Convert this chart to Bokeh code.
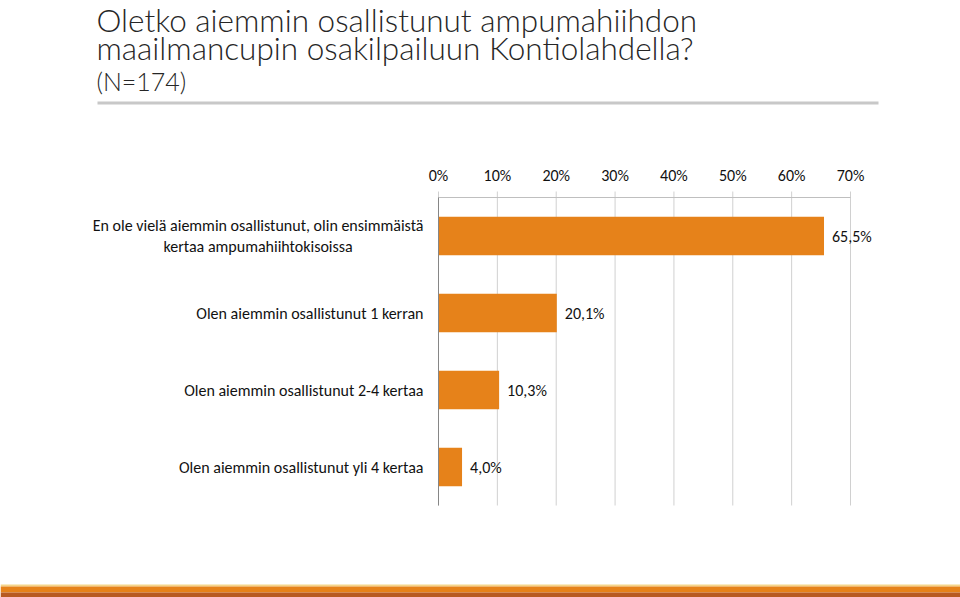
from bokeh.plotting import figure
from bokeh.models import Range1d, Label, ColumnDataSource, BoxAnnotation
from bokeh.core.properties import value
from bokeh.embed import file_html
from bokeh.resources import INLINE

categories = [
    "En ole vielä aiemmin osallistunut, olin ensimmäistä\nkertaa ampumahiihtokisoissa",
    "Olen aiemmin osallistunut 1 kerran",
    "Olen aiemmin osallistunut 2-4 kertaa",
    "Olen aiemmin osallistunut yli 4 kertaa",
]
values = [65.5, 20.1, 10.3, 4.0]
value_labels = ["65,5%", "20,1%", "10,3%", "4,0%"]
ticks = [0, 10, 20, 30, 40, 50, 60, 70]
tick_labels = [f"{t}%" for t in ticks]
title_lines = ["Oletko aiemmin osallistunut ampumahiihdon",
               "maailmancupin osakilpailuun Kontiolahdella?"]
subtitle = "(N=174)"

FONT = value("Carlito")
FS = "16px"
TITLE_FONT = "Lato Light"
ORANGE = "#E6821A"
TXT = "#111111"

W, H = 960, 597
# pixel layout of the plotting area
FL, FR, FT, FB = 438, 850, 197, 505
XMAX = 70.0
pxx = (FR - FL) / XMAX          # pixels per percent
ncat = len(categories)
pxy = (FB - FT) / ncat          # pixels per category
y0px = FT + pxy / 2             # pixel of first category centre

x_range = Range1d(-FL / pxx, (W - FL) / pxx)
y_range = Range1d((H - y0px) / pxy, -y0px / pxy)   # inverted: first category on top
top = -0.5
bottom = ncat - 0.5

p = figure(width=W, height=H, output_backend="svg", toolbar_location=None,
           x_range=x_range, y_range=y_range, min_border=0,
           x_axis_type=None, y_axis_type=None)
p.outline_line_color = None
p.background_fill_color = "white"
p.border_fill_color = "white"
p.grid.visible = False

idx = list(range(ncat))
src = ColumnDataSource(dict(cat=categories, y=idx, val=values, lab=value_labels))

# grid lines + outward tick marks
tick_px = 6
p.segment(x0=ticks, x1=ticks, y0=[top - tick_px / pxy] * len(ticks), y1=[bottom] * len(ticks),
          line_color="#D0D0D0", line_width=1)
# top axis line
p.segment(x0=[0], x1=[XMAX], y0=[top], y1=[top], line_color="#BFBFBF", line_width=1)

# bars
p.hbar(y="y", right="val", left=0, height=0.5, source=src,
       fill_color=ORANGE, line_color=None)

# left axis line
p.segment(x0=[0], x1=[0], y0=[top], y1=[bottom], line_color="#868686", line_width=1)

# tick labels
p.text(x=ticks, y=[top] * len(ticks), text=tick_labels, y_offset=-22,
       text_font=FONT, text_font_size=FS, text_color=TXT,
       text_align="center", text_baseline="middle")

# category labels
p.text(x=0, y="y", text="cat", source=src, x_offset=-15,
       text_font=FONT, text_font_size=FS, text_color=TXT,
       text_align="center", anchor="center_right", text_baseline="middle",
       text_line_height=1.15)

# value labels
p.text(x="val", y="y", text="lab", source=src, x_offset=8,
       text_font=FONT, text_font_size=FS, text_color=TXT,
       text_align="left", text_baseline="middle")

# Title
title_y = [19, 47]
for t, ty in zip(title_lines, title_y):
    p.add_layout(Label(x=96, y=H - ty, x_units="screen", y_units="screen",
                       text=t, text_font=TITLE_FONT, text_font_size="31.5px",
                       text_color="#262626", text_baseline="alphabetic"))
p.add_layout(Label(x=96, y=H - 80, x_units="screen", y_units="screen",
                   text=subtitle, text_font=TITLE_FONT, text_font_size="25px",
                   text_color="#262626", text_baseline="alphabetic"))

# separator line and bottom stripes
def band(l, r, t, b, color):
    p.add_layout(BoxAnnotation(left=l, right=r, top=t, bottom=b,
                               left_units="canvas", right_units="canvas",
                               top_units="canvas", bottom_units="canvas",
                               fill_color=color, fill_alpha=1, line_color=None))

band(97, 878, 101, 104, "#C8C8C8")
band(0, W, 584, 586, "#F5D58A")
band(0, W, 586, 592, "#E6821A")
band(0, W, 592, 597, "#B85A22")

open("out.html", "w").write(file_html(p, INLINE))
